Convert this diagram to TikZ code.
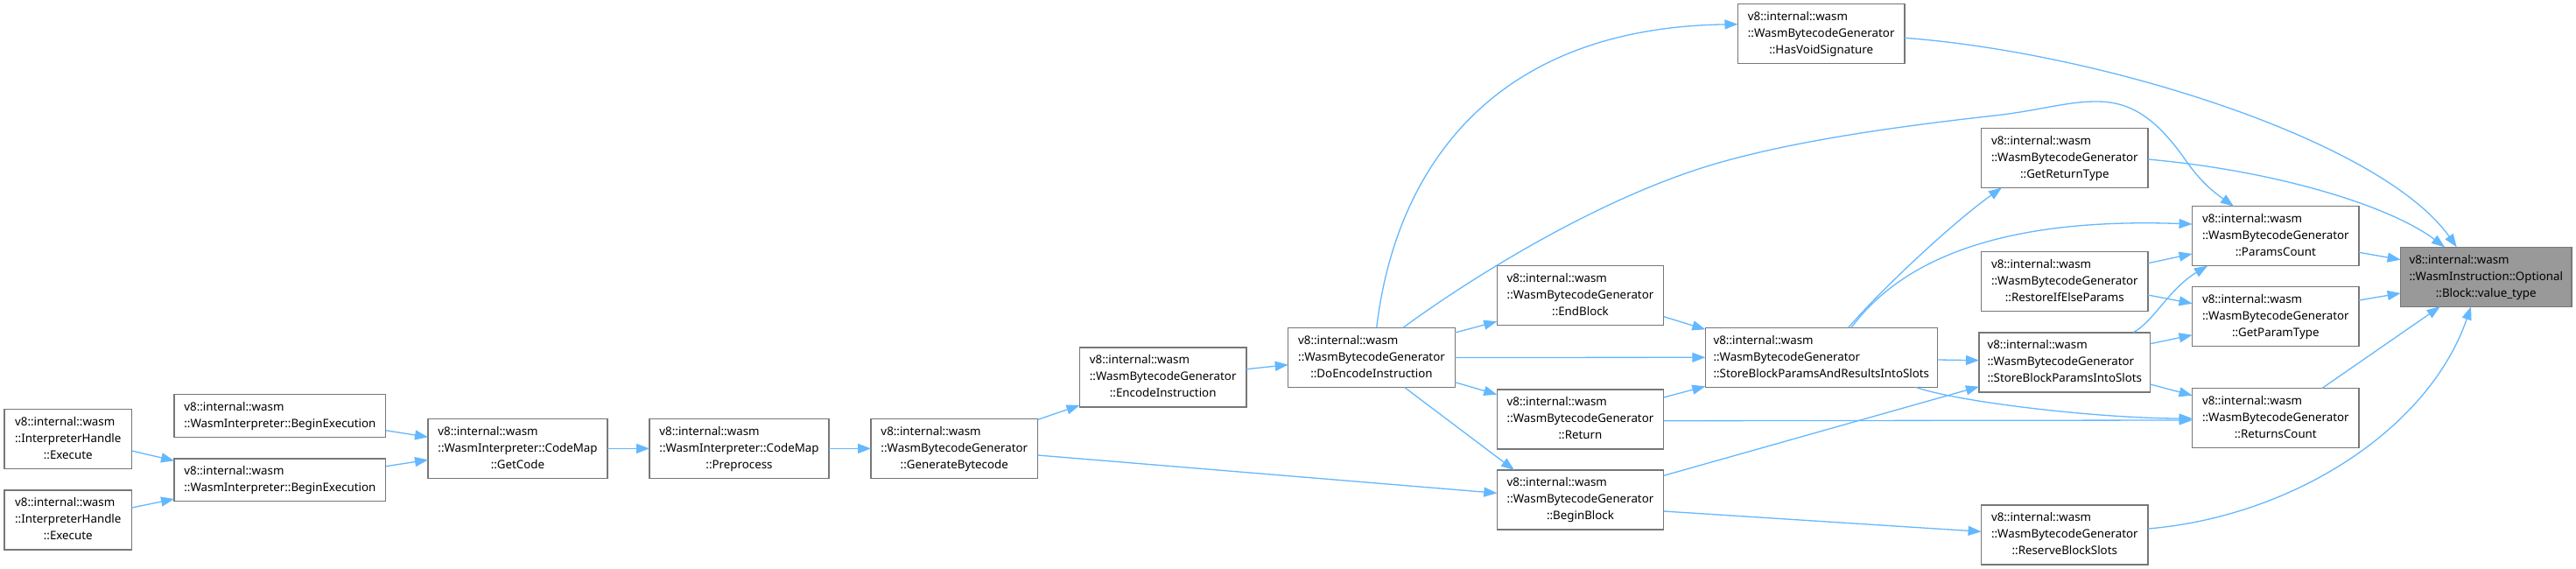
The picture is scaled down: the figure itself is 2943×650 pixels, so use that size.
\documentclass[tikz,border=0pt]{standalone}
\usepackage{fontspec}
\newfontfamily\notosans{Noto Sans}
\usetikzlibrary{arrows.meta,calc}
\definecolor{edgeblue}{HTML}{63B8FF}
\definecolor{boxgray}{HTML}{777777}
\definecolor{rootfill}{HTML}{999999}
\newcommand\lblc[3]{\begin{tabular}{@{}l@{}}#1\\#2\\\multicolumn{1}{@{}c@{}}{#3}\end{tabular}}
\newcommand\lblb[2]{\begin{tabular}{@{}l@{}}#1\\\multicolumn{1}{@{}c@{}}{#2}\end{tabular}}
\newcommand\nsVW{v8::internal::wasm}
\newcommand\nsWBG{::WasmBytecodeGenerator}
\begin{document}
\begin{tikzpicture}[x=1pt,y=-1pt,
  box/.style={draw=boxgray,line width=1.4pt,fill=white,inner sep=0pt,outer sep=0pt,
    font=\notosans\fontsize{13.33}{19}\selectfont,minimum height=68pt,minimum width=190.5pt},
  twoline/.style={minimum height=48.6pt},
  edge/.style={draw=edgeblue,line width=1.3pt,-{Triangle[length=15pt,width=11pt]}},
]
\path[use as bounding box,fill=white] (0,0) rectangle (2943,650);

% nodes
\node[box,minimum width=145.5pt] (exe1) at (77.8,501.7) {\lblc{\nsVW}{::InterpreterHandle}{::Execute}};
\node[box,minimum width=145.5pt] (exe2) at (77.8,593.8) {\lblc{\nsVW}{::InterpreterHandle}{::Execute}};
\node[box,twoline,minimum width=241.7pt] (bex1) at (319.9,475) {\lblb{\nsVW}{::WasmInterpreter::BeginExecution}};
\node[box,twoline,minimum width=241.7pt] (bex2) at (319.9,548.3) {\lblb{\nsVW}{::WasmInterpreter::BeginExecution}};
\node[box,minimum width=205pt] (getcode) at (591.5,512.4) {\lblc{\nsVW}{::WasmInterpreter::CodeMap}{::GetCode}};
\node[box,minimum width=205pt] (preproc) at (844.5,512.4) {\lblc{\nsVW}{::WasmInterpreter::CodeMap}{::Preprocess}};
\node[box] (genbc) at (1090.3,512.4) {\lblc{\nsVW}{\nsWBG}{::GenerateBytecode}};
\node[box] (encinst) at (1328.7,431) {\lblc{\nsVW}{\nsWBG}{::EncodeInstruction}};
\node[box] (doenc) at (1567,408.5) {\lblc{\nsVW}{\nsWBG}{::DoEncodeInstruction}};
\node[box] (endblock) at (1805.5,337.5) {\lblc{\nsVW}{\nsWBG}{::EndBlock}};
\node[box] (ret) at (1805.5,478.8) {\lblc{\nsVW}{\nsWBG}{::Return}};
\node[box] (beginblock) at (1805.5,571) {\lblc{\nsVW}{\nsWBG}{::BeginBlock}};
\node[box] (hasvoid) at (2080.7,38.8) {\lblc{\nsVW}{\nsWBG}{::HasVoidSignature}};
\node[box,minimum width=265pt] (sbparis) at (2080.8,408.3) {\lblc{\nsVW}{\nsWBG}{::StoreBlockParamsAndResultsIntoSlots}};
\node[box] (getret) at (2358.8,180.4) {\lblc{\nsVW}{\nsWBG}{::GetReturnType}};
\node[box] (restore) at (2358.8,321.7) {\lblc{\nsVW}{\nsWBG}{::RestoreIfElseParams}};
\node[box,minimum width=195.7pt] (sbpis) at (2358.8,413.8) {\lblc{\nsVW}{\nsWBG}{::StoreBlockParamsIntoSlots}};
\node[box] (reserve) at (2358.8,611) {\lblc{\nsVW}{\nsWBG}{::ReserveBlockSlots}};
\node[box] (params) at (2599.8,269.7) {\lblc{\nsVW}{\nsWBG}{::ParamsCount}};
\node[box] (getparam) at (2599.8,361.7) {\lblc{\nsVW}{\nsWBG}{::GetParamType}};
\node[box] (returns) at (2599.8,477.7) {\lblc{\nsVW}{\nsWBG}{::ReturnsCount}};
\node[box,fill=rootfill,minimum width=195.2pt] (valtype) at (2840.2,316.3) {\lblc{\nsVW}{::WasmInstruction::Optional}{::Block::value\_type}};

% edges
\draw[edge] ($(exe1.east)+(0,13.3)$) -- ($(bex2.west)+(0,-22)$);
\draw[edge] ($(exe2.east)+(0,-13.8)$) -- ($(bex2.west)+(0,21.7)$);
\draw[edge] ($(bex1.east)+(0,16.7)$) -- ($(getcode.west)+(0,-13.1)$);
\draw[edge] ($(bex2.east)+(0,-15.6)$) -- ($(getcode.west)+(0,12.9)$);
\draw[edge] (getcode.east) -- (preproc.west);
\draw[edge] (preproc.east) -- (genbc.west);
\draw[edge] ($(genbc.east)+(0,-33)$) -- ($(encinst.west)+(0,32)$);
\draw[edge] ($(genbc.east)+(0,7.6)$) -- ($(beginblock.west)+(0,-7.7)$);
\draw[edge] ($(encinst.east)+(0,-9.3)$) -- ($(doenc.west)+(0,8.2)$);
\draw[edge] ($(doenc.east)+(0,-28.5)$) -- ($(endblock.west)+(0,29.8)$);
\draw[edge] (doenc.east) -- (sbparis.west);
\draw[edge] ($(doenc.east)+(0,28.2)$) -- ($(ret.west)+(0,-28.1)$);
\draw[edge] ($(doenc.south)+(37.6,0)$) -- ($(beginblock.north)+(-75.5,0)$);
\draw[edge] ($(doenc.north)+(5.7,0)$) .. controls (1592,210) and (1690,32) .. ($(hasvoid.west)+(0,-11.1)$);
\draw[edge] ($(doenc.north)+(35.7,0)$) .. controls (1670,325) and (1820,228) .. (1960,187)
   .. controls (2060,158) and (2190,142) .. (2279,132)
   .. controls (2330,126.3) and (2360,116) .. (2395,116)
   .. controls (2430,116) and (2460,130) .. (2497,183)
   .. controls (2515,209) and (2530,220) .. ($(params.north)+(-47.8,0)$);
\draw[edge] ($(endblock.east)+(0,24.2)$) -- ($(sbparis.north west)+(0,2)$);
\draw[edge] ($(ret.east)+(0,-24.8)$) -- ($(sbparis.south west)+(0,-1)$);
\draw[edge] ($(ret.east)+(0,1.9)$) -- ($(returns.west)+(0,2.3)$);
\draw[edge] ($(beginblock.east)+(0,-27.7)$) -- ($(sbpis.west)+(0,27.9)$);
\draw[edge] ($(beginblock.east)+(0,13)$) -- ($(reserve.west)+(0,-3.7)$);
\draw[edge] ($(sbparis.east)+(0,2.7)$) -- ($(sbpis.west)+(0,-2.1)$);
\draw[edge] ($(sbparis.north)+(30.9,0)$) .. controls (2150,330) and (2230,255) .. ($(getret.south west)+(23.4,0)$);
\draw[edge] ($(sbparis.north)+(34.2,0)$) .. controls (2170,300) and (2280,248) .. ($(params.west)+(0,-13.7)$);
\draw[edge] ($(sbparis.south)+(107.5,0)$) .. controls (2240,460) and (2400,478) .. ($(returns.west)+(0,0.3)$);
\draw[edge] ($(restore.east)+(0,-21)$) -- ($(params.west)+(0,20.3)$);
\draw[edge] ($(restore.east)+(0,15.3)$) -- ($(getparam.west)+(0,-15)$);
\draw[edge] ($(sbpis.north)+(78.2,0)$) .. controls (2460,368) and (2478,330) .. ($(params.south west)+(17.4,0)$);
\draw[edge] ($(sbpis.east)+(0,-21.1)$) -- ($(getparam.west)+(0,21)$);
\draw[edge] ($(sbpis.east)+(0,25.2)$) -- ($(returns.west)+(0,-26)$);
\draw[edge] ($(params.east)+(0,18.6)$) -- ($(valtype.west)+(0,-19.6)$);
\draw[edge] ($(getparam.east)+(0,-18.7)$) -- ($(valtype.west)+(0,18.7)$);
\draw[edge] ($(returns.north)+(52.8,0)$) -- ($(valtype.south)+(-52.6,0)$);
\draw[edge] ($(reserve.east)+(0,-7)$) .. controls (2620,590) and (2775,490) .. ($(valtype.south)+(-17.2,0)$);
\draw[edge] ($(hasvoid.east)+(0,4.5)$) .. controls (2400,60) and (2720,160) .. ($(valtype.north)+(-33.5,0)$);
\draw[edge] ($(getret.east)+(0,1.6)$) .. controls (2600,195) and (2730,235) .. ($(valtype.north)+(-47.2,0)$);
\end{tikzpicture}
\end{document}
